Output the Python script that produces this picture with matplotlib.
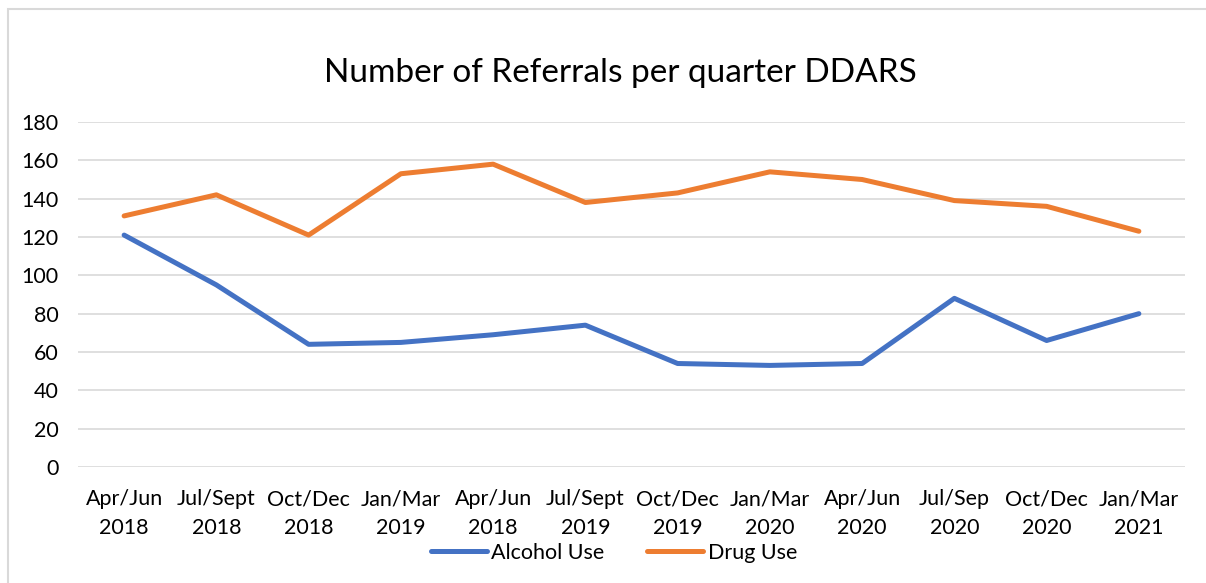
import numpy as np
import matplotlib
matplotlib.use("Agg")
import matplotlib.pyplot as plt
from matplotlib.patches import Rectangle

quarters = ["Apr/Jun\n2018", "Jul/Sept\n2018", "Oct/Dec\n2018", "Jan/Mar\n2019",
            "Apr/Jun\n2018", "Jul/Sept\n2019", "Oct/Dec\n2019", "Jan/Mar\n2020",
            "Apr/Jun\n2020", "Jul/Sep\n2020", "Oct/Dec\n2020", "Jan/Mar\n2021"]
alcohol = [121, 95, 64, 65, 69, 74, 54, 53, 54, 88, 66, 80]
drug = [131, 142, 121, 153, 158, 138, 143, 154, 150, 139, 136, 123]

plt.rcParams["font.family"] = ["Lato", "DejaVu Sans"]

W, H = 1206, 583
fig = plt.figure(figsize=(W / 100, H / 100), dpi=100)

# chart frame (Excel style, light grey), right/bottom edges off the image
fig.patches.append(Rectangle((8 / W, -0.05), 1.5, (H - 9) / H + 0.05,
                             transform=fig.transFigure, fill=False,
                             edgecolor="#d9d9d9", linewidth=1.5))

ax = fig.add_axes([78 / W, (H - 467) / H, (1185 - 78) / W, (467 - 122) / H])
x = np.arange(len(quarters))
ax.plot(x, alcohol, color="#4472c4", linewidth=3.6, solid_capstyle="round",
        solid_joinstyle="round", label="Alcohol Use")
ax.plot(x, drug, color="#ed7d31", linewidth=3.6, solid_capstyle="round",
        solid_joinstyle="round", label="Drug Use")

ax.set_xlim(-0.5, len(quarters) - 0.5)
ax.set_ylim(0, 180)
ax.set_yticks(range(0, 181, 20))
ax.set_xticks(x)
ax.set_xticklabels(quarters, linespacing=1.55)
ax.grid(axis="y", color="#d9d9d9", linewidth=1.2)
ax.set_axisbelow(True)
for s in ax.spines.values():
    s.set_visible(False)
ax.tick_params(length=0, labelsize=15.5, colors="#000000")
ax.tick_params(axis="y", pad=14)
ax.tick_params(axis="x", pad=16)

fig.text(620 / W, 1 - 73 / H, "Number of Referrals per quarter DDARS",
         ha="center", va="center", fontsize=24)

fig.legend(loc="center", bbox_to_anchor=(614 / W, 1 - 553 / H), ncol=2,
           frameon=False, fontsize=15.5, handlelength=2.6, handletextpad=0.2,
           columnspacing=2.0)

fig.savefig("out.png", dpi=100)
